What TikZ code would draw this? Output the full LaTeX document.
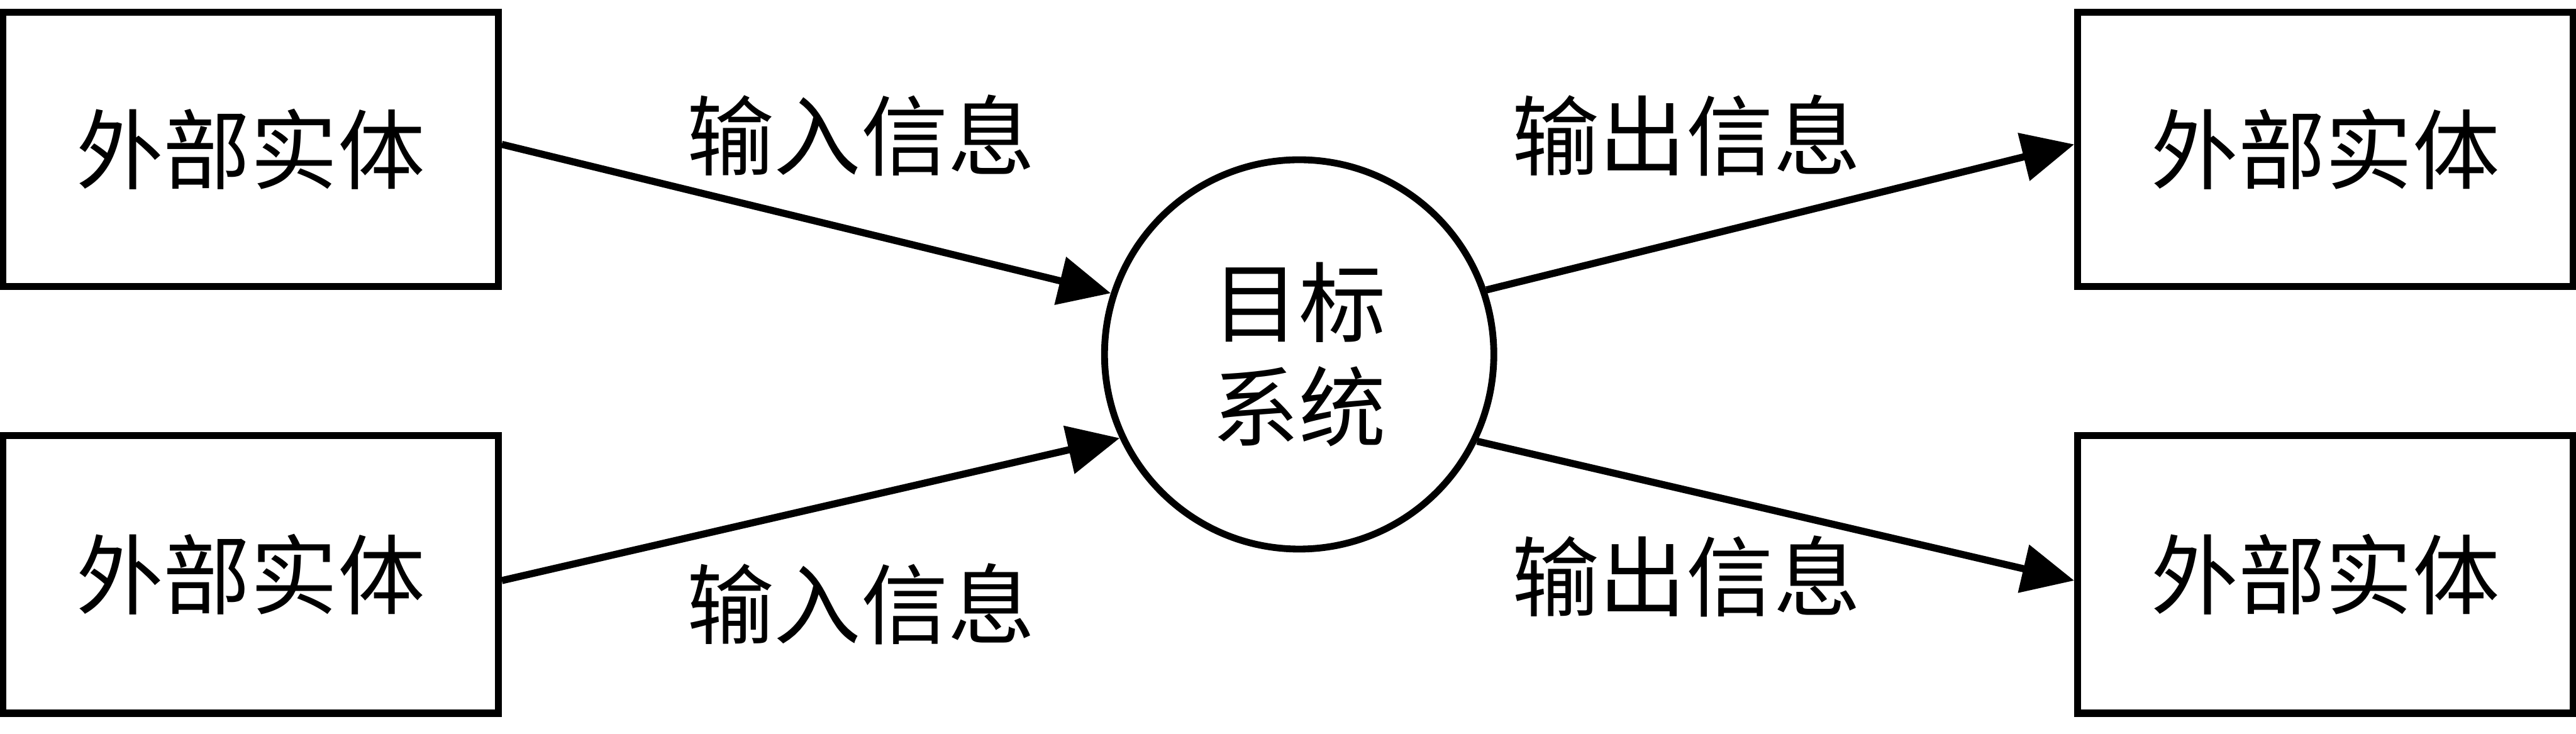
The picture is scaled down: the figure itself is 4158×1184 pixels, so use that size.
\documentclass[tikz,border=0pt]{standalone}
\usepackage{fontspec}
\newfontfamily\cjk{Noto Sans CJK SC}
\usetikzlibrary{arrows.meta}
\begin{document}
\begin{tikzpicture}[x=0.01cm,y=-0.01cm,
  txt/.style={font=\cjk\fontsize{40pt}{48pt}\selectfont},
  ent/.style={txt, draw, rectangle, line width=0.115cm, minimum width=7.99cm, inner sep=0pt},
  proc/.style={txt, draw, circle, line width=0.11cm, minimum size=6.28cm, inner sep=0pt, align=center},
  lbl/.style={txt, inner sep=0pt},
  flow/.style={line width=0.115cm, -{Triangle[length=0.84cm,width=0.77cm]}}]
\useasboundingbox (0,0) rectangle (4158,1184);
\node[ent, minimum height=4.42cm] (e1) at (404.5,241) {外部实体};
\node[ent, minimum height=4.48cm] (e2) at (404.5,927) {外部实体};
\node[ent, minimum height=4.42cm] (e3) at (3753.5,241) {外部实体};
\node[ent, minimum height=4.48cm] (e4) at (3753.5,927) {外部实体};
\node[proc] (sys) at (2097,572) {目标\\系统};
\node[lbl] (l1) at (1390,219) {输入信息};
\node[lbl] (l2) at (1390,975) {输入信息};
\node[lbl] (l3) at (2722,219) {输出信息};
\node[lbl] (l4) at (2722,930) {输出信息};
\draw[flow] ([yshift=0.08cm]e1.east) -- (sys.162.5);
\draw[flow] ([yshift=-0.1cm]e2.east) -- (sys.205.6);
\draw[flow] (sys.19) -- ([yshift=0.08cm]e3.west);
\draw[flow] (sys.-26) -- ([yshift=-0.1cm]e4.west);
\end{tikzpicture}
\end{document}
